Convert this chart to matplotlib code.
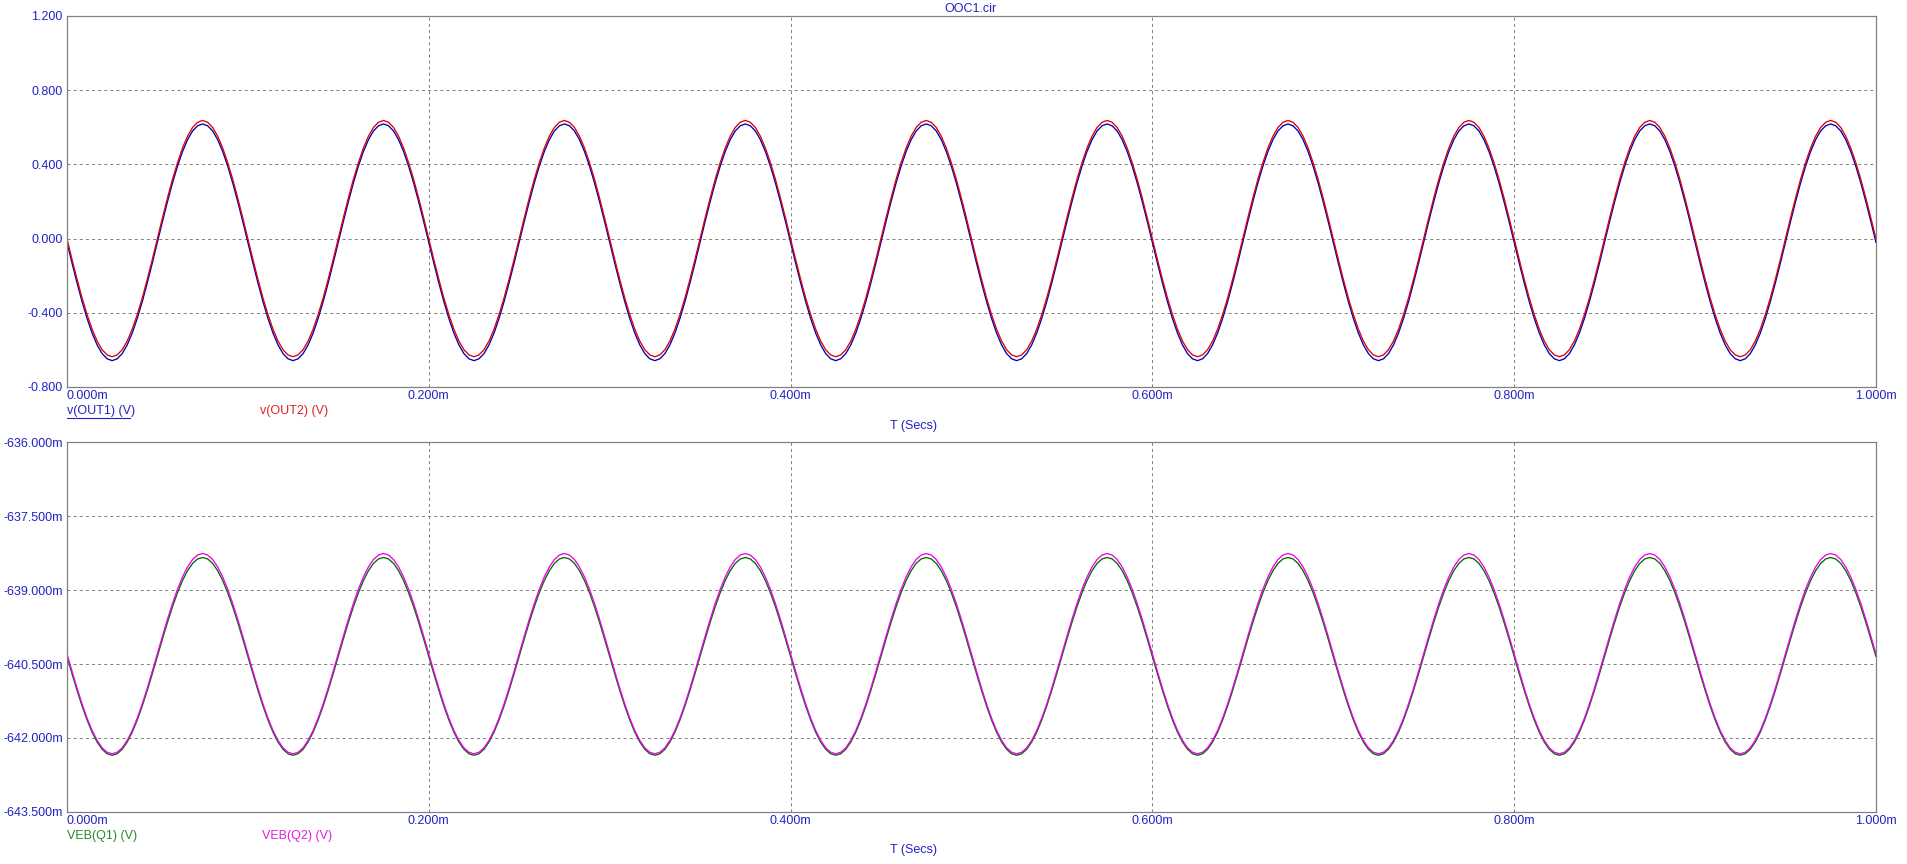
import numpy as np
import matplotlib
matplotlib.use("Agg")
import matplotlib.pyplot as plt
from matplotlib.ticker import FuncFormatter

plt.rcParams['font.family'] = ['Liberation Sans', 'DejaVu Sans']
plt.rcParams['lines.scale_dashes'] = False

# one period (0.1 ms), 36 samples per period; the
# waveform repeats 10 times over the 1 ms window
period_ms = 0.1
n_periods = 10

# top plot, volts
out1 = [-0.020, -0.131, -0.238, -0.339, -0.430, -0.509, -0.573, -0.620, -0.648,
        -0.658, -0.648, -0.620, -0.573, -0.509, -0.430, -0.339, -0.238, -0.131,
        -0.020, 0.091, 0.198, 0.299, 0.390, 0.469, 0.533, 0.580, 0.608,
        0.618, 0.608, 0.580, 0.533, 0.469, 0.390, 0.299, 0.198, 0.091]
out2 = [0.000, -0.111, -0.218, -0.319, -0.409, -0.488, -0.552, -0.599, -0.627,
        -0.637, -0.627, -0.599, -0.552, -0.488, -0.409, -0.319, -0.218, -0.111,
        0.000, 0.111, 0.218, 0.319, 0.409, 0.488, 0.552, 0.599, 0.627,
        0.637, 0.627, 0.599, 0.552, 0.488, 0.409, 0.319, 0.218, 0.111]

# bottom plot, millivolts
veb_q1 = [-640.345, -640.693, -641.031, -641.348, -641.634, -641.881, -642.081, -642.229, -642.320,
          -642.350, -642.320, -642.229, -642.081, -641.881, -641.634, -641.348, -641.031, -640.693,
          -640.345, -639.997, -639.659, -639.342, -639.056, -638.809, -638.609, -638.461, -638.370,
          -638.340, -638.370, -638.461, -638.609, -638.809, -639.056, -639.342, -639.659, -639.997]
veb_q2 = [-640.290, -640.642, -640.984, -641.305, -641.595, -641.845, -642.048, -642.198, -642.289,
          -642.320, -642.289, -642.198, -642.048, -641.845, -641.595, -641.305, -640.984, -640.642,
          -640.290, -639.938, -639.596, -639.275, -638.985, -638.735, -638.532, -638.382, -638.291,
          -638.260, -638.291, -638.382, -638.532, -638.735, -638.985, -639.275, -639.596, -639.938]

x_ticks = [0.0, 0.2, 0.4, 0.6, 0.8, 1.0]
top_ticks = [-0.8, -0.4, 0.0, 0.4, 0.8, 1.2]
bot_ticks = [-643.5, -642.0, -640.5, -639.0, -637.5, -636.0]


def repeat(one_period):
    # repeat the period and close the last cycle with its first sample
    vals = np.tile(one_period, n_periods)
    return np.append(vals, one_period[0])


n = len(out1) * n_periods + 1
t = np.arange(n) * period_ms / len(out1)

tick_col = '#2222c4'
grid_col = '#808080'

fig = plt.figure(figsize=(19.07, 8.64), dpi=100)
ax1 = fig.add_axes([0.0351, 0.5521, 0.9486, 0.4294])
ax2 = fig.add_axes([0.0351, 0.0602, 0.9486, 0.4282])


def style(ax, yticks, yfmt, ylim):
    ax.set_xlim(0, 1.0)
    ax.set_ylim(*ylim)
    ax.set_xticks(x_ticks)
    ax.set_yticks(yticks)
    ax.xaxis.set_major_formatter(FuncFormatter(lambda v, p: "%.3fm" % v))
    ax.yaxis.set_major_formatter(FuncFormatter(yfmt))
    ax.tick_params(length=0, labelsize=9, colors=tick_col, pad=3)
    ax.tick_params(axis='x', pad=2)
    for s in ax.spines.values():
        s.set_color(grid_col)
        s.set_linewidth(0.9)
    ax.grid(True, color=grid_col, linewidth=0.7, dashes=(2.2, 2.2))
    labels = ax.get_xticklabels()
    labels[0].set_horizontalalignment('left')


style(ax1, top_ticks, lambda v, p: "%.3f" % v, (-0.8, 1.2))
style(ax2, bot_ticks, lambda v, p: "%.3fm" % v, (-643.5, -636.0))

ax1.plot(t, repeat(out1), color='#0000b4', linewidth=0.95)
ax1.plot(t, repeat(out2), color='#e00000', linewidth=0.95)
ax2.plot(t, repeat(veb_q1), color='#006a00', linewidth=0.95)
ax2.plot(t, repeat(veb_q2), color='#ee00ee', linewidth=0.95)

fig.text(971 / 1907, 1 - 9 / 864, "OOC1.cir", color=tick_col, fontsize=9,
         ha='center', va='center')

# trace names and x-axis titles
fig.text(67 / 1907, 1 - 411 / 864, "v(OUT1) (V)", color=tick_col, fontsize=9,
         ha='left', va='center')
fig.lines.append(plt.Line2D([67 / 1907, 130 / 1907], [1 - 418 / 864, 1 - 418 / 864],
                            color=tick_col, linewidth=0.8, transform=fig.transFigure))
fig.text(260 / 1907, 1 - 411 / 864, "v(OUT2) (V)", color='#e02020', fontsize=9,
         ha='left', va='center')
fig.text(914 / 1907, 1 - 426 / 864, "T (Secs)", color=tick_col, fontsize=9,
         ha='center', va='center')

fig.text(67 / 1907, 1 - 836 / 864, "VEB(Q1) (V)", color='#2a8a2a', fontsize=9,
         ha='left', va='center')
fig.text(262 / 1907, 1 - 836 / 864, "VEB(Q2) (V)", color='#e020e0', fontsize=9,
         ha='left', va='center')
fig.text(914 / 1907, 1 - 850 / 864, "T (Secs)", color=tick_col, fontsize=9,
         ha='center', va='center')

fig.savefig("out.png", dpi=100, facecolor='white')
